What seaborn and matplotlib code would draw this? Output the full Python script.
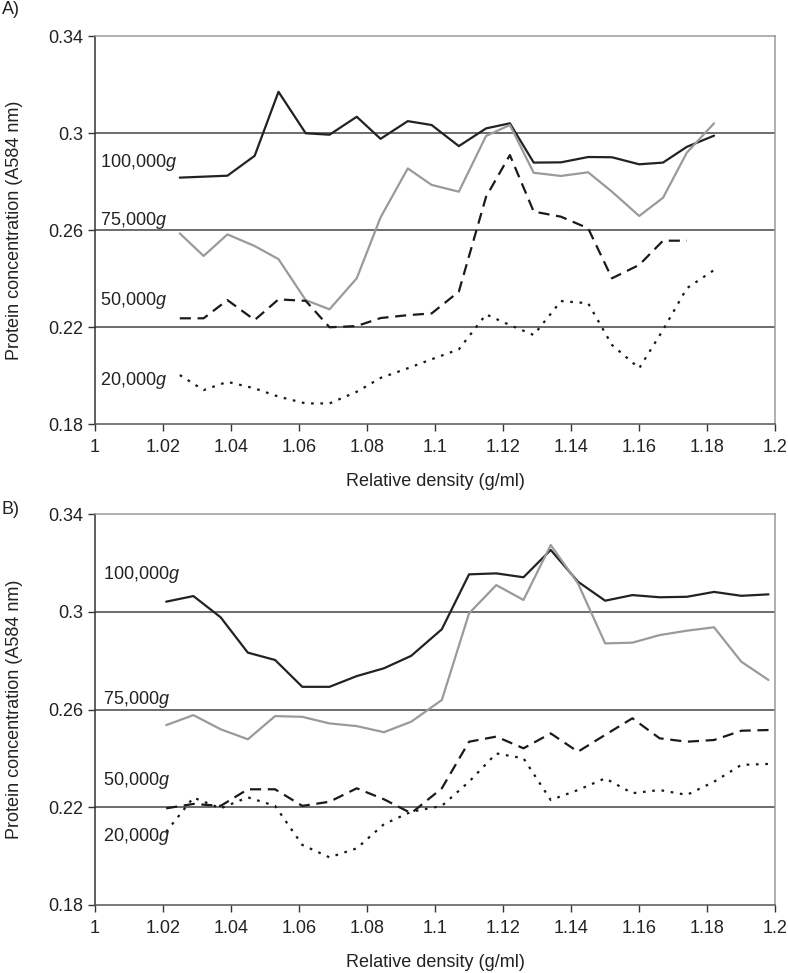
import matplotlib
matplotlib.use("Agg")
import matplotlib.pyplot as plt
import matplotlib.ticker as mticker
import numpy as np
import pandas as pd
import seaborn as sns

# panel A: densities and protein concentration (A584 nm)
dens_a = [1.025, 1.032, 1.039, 1.047, 1.054, 1.062, 1.069, 1.077, 1.084, 1.092, 1.099,
          1.107, 1.115, 1.122, 1.129, 1.137, 1.145, 1.152, 1.160, 1.167, 1.174, 1.182]
a_100k = [0.2816, 0.2820, 0.2824, 0.2906, 0.3170, 0.2999, 0.2993, 0.3067, 0.2976, 0.3049, 0.3033,
          0.2946, 0.3019, 0.3040, 0.2878, 0.2879, 0.2901, 0.2900, 0.2871, 0.2878, 0.2943, 0.2989]
a_75k = [0.2586, 0.2493, 0.2582, 0.2534, 0.2480, 0.2311, 0.2273, 0.2401, 0.2652, 0.2854, 0.2786,
         0.2758, 0.2988, 0.3033, 0.2836, 0.2823, 0.2838, 0.2758, 0.2658, 0.2733, 0.2919, 0.3040]
a_50k = [0.2236, 0.2236, 0.2311, 0.2229, 0.2314, 0.2308, 0.2199, 0.2204, 0.2237, 0.2249, 0.2256,
         0.2346, 0.2737, 0.2909, 0.2676, 0.2655, 0.2607, 0.2401, 0.2456, 0.2556, 0.2556, np.nan]
a_20k = [0.2002, 0.1940, 0.1974, 0.1947, 0.1913, 0.1885, 0.1885, 0.1933, 0.1990, 0.2030, 0.2067,
         0.2108, 0.2252, 0.2208, 0.2167, 0.2307, 0.2298, 0.2126, 0.2030, 0.2188, 0.2360, 0.2435]

# panel B
dens_b = [1.021, 1.029, 1.037, 1.045, 1.053, 1.061, 1.069, 1.077, 1.085, 1.093, 1.102, 1.110,
          1.118, 1.126, 1.134, 1.142, 1.150, 1.158, 1.166, 1.174, 1.182, 1.190, 1.198]
b_100k = [0.3042, 0.3065, 0.2978, 0.2833, 0.2803, 0.2693, 0.2693, 0.2737, 0.2769, 0.2820, 0.2929, 0.3154,
          0.3158, 0.3142, 0.3254, 0.3124, 0.3046, 0.3069, 0.3060, 0.3062, 0.3082, 0.3066, 0.3072]
b_75k = [0.2536, 0.2577, 0.2519, 0.2478, 0.2573, 0.2570, 0.2543, 0.2532, 0.2507, 0.2550, 0.2639, 0.2994,
         0.3110, 0.3049, 0.3274, 0.3117, 0.2871, 0.2874, 0.2905, 0.2923, 0.2937, 0.2796, 0.2721]
b_50k = [0.2195, 0.2213, 0.2205, 0.2273, 0.2273, 0.2205, 0.2222, 0.2277, 0.2232, 0.2175, 0.2277, 0.2468,
         0.2489, 0.2441, 0.2502, 0.2427, 0.2496, 0.2564, 0.2482, 0.2468, 0.2475, 0.2513, 0.2516]
b_20k = [0.2099, 0.2239, 0.2195, 0.2240, 0.2205, 0.2045, 0.1994, 0.2031, 0.2130, 0.2181, 0.2205, 0.2304,
         0.2420, 0.2400, 0.2229, 0.2270, 0.2318, 0.2257, 0.2270, 0.2250, 0.2304, 0.2373, 0.2377]

series_names = ["100,000", "75,000", "50,000", "20,000"]
yticks = [0.18, 0.22, 0.26, 0.30, 0.34]
xticks = [1.0, 1.02, 1.04, 1.06, 1.08, 1.1, 1.12, 1.14, 1.16, 1.18, 1.2]

# label positions (data coords) for each panel
label_pos_a = [(1.0016, 0.2880), (1.0016, 0.2641), (1.0016, 0.2311), (1.0016, 0.1981)]
label_pos_b = [(1.0024, 0.3155), (1.0024, 0.2640), (1.0024, 0.2311), (1.0024, 0.2079)]

sns.set_style("white")
plt.rcParams["font.family"] = ["Liberation Sans", "DejaVu Sans"]
plt.rcParams["mathtext.fontset"] = "custom"
plt.rcParams["mathtext.it"] = "Liberation Sans:italic"
plt.rcParams["mathtext.rm"] = "Liberation Sans"

styles = [
    dict(color="#222222", linestyle="-"),
    dict(color="#9a9a9a", linestyle="-"),
    dict(color="#1a1a1a", linestyle=(0, (5, 3))),
    dict(color="#1a1a1a", linestyle=(0, (1.2, 3))),
]

fig = plt.figure(figsize=(7.88, 9.73), dpi=100)
ax_a = fig.add_axes([0.1202, 0.5642, 0.8637, 0.3988])
ax_b = fig.add_axes([0.1202, 0.0702, 0.8637, 0.4012])
FS = 13


def draw_panel(ax, dens, values, label_pos):
    for vals, name, st, pos in zip(values, series_names, styles, label_pos):
        df = pd.DataFrame({"density": dens, "conc": vals}).dropna()
        sns.lineplot(data=df, x="density", y="conc", ax=ax, lw=1.6, **st)
        ax.text(pos[0], pos[1], name + "$g$", fontsize=FS, ha="left", va="center", color="#222222")
    ax.set_xlim(1.0, 1.2)
    ax.set_ylim(0.18, 0.34)
    ax.set_xticks(xticks)
    ax.set_yticks(yticks)
    fmt = mticker.FuncFormatter(lambda v, p: f"{v:g}")
    ax.xaxis.set_major_formatter(fmt)
    ax.yaxis.set_major_formatter(fmt)
    for y in yticks[1:-1]:
        ax.axhline(y, color="#444444", lw=1.1, zorder=0)
    ax.spines["top"].set_color("#9a9a9a")
    ax.spines["right"].set_color("#9a9a9a")
    ax.spines["left"].set_color("#333333")
    ax.spines["bottom"].set_color("#555555")
    for s in ax.spines.values():
        s.set_linewidth(1.1)
    ax.tick_params(axis="both", direction="out", length=5, width=1, labelsize=FS,
                   color="#333333", labelcolor="#222222", left=True, bottom=True)
    ax.tick_params(axis="x", pad=6)
    ax.set_xlabel("Relative density (g/ml)", fontsize=FS, color="#222222", labelpad=12)
    ax.set_ylabel("Protein concentration (A584 nm)", fontsize=FS, color="#222222", labelpad=18)


draw_panel(ax_a, dens_a, [a_100k, a_75k, a_50k, a_20k], label_pos_a)
draw_panel(ax_b, dens_b, [b_100k, b_75k, b_50k, b_20k], label_pos_b)

fig.text(0.002, 1 - 9 / 973, "A)", fontsize=FS, ha="left", va="center", color="#222222")
fig.text(0.002, 1 - 510 / 973, "B)", fontsize=FS, ha="left", va="center", color="#222222")

fig.savefig("out.png", dpi=100)
